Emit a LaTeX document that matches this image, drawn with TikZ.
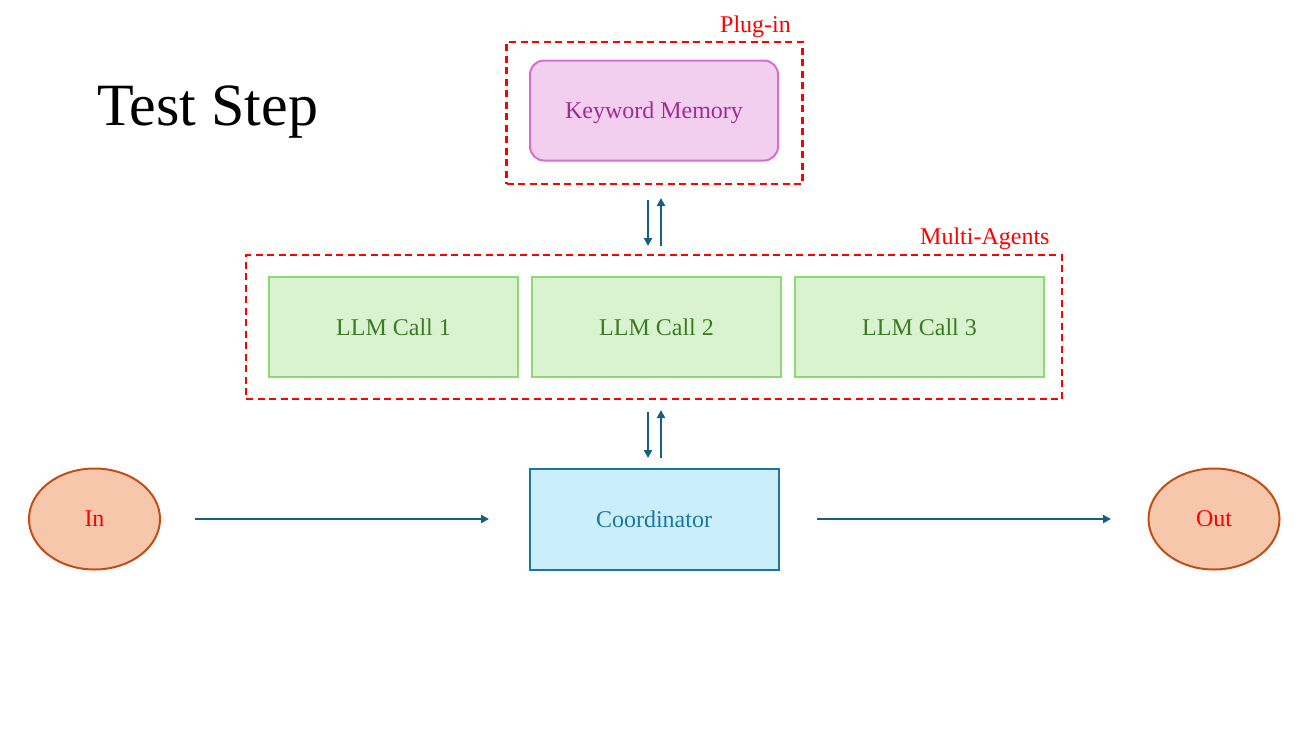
\documentclass[tikz,border=0pt]{standalone}
\usepackage{fontspec}
\setmainfont{Liberation Serif}
\usetikzlibrary{arrows.meta,shapes.geometric}
\definecolor{kwfill}{HTML}{F2CFEE}
\definecolor{kwdraw}{HTML}{D86ECC}
\definecolor{kwtext}{HTML}{A02B93}
\definecolor{llmfill}{HTML}{D9F2D0}
\definecolor{llmdraw}{HTML}{8ED973}
\definecolor{llmtext}{HTML}{3A7C22}
\definecolor{cofill}{HTML}{CAEEFB}
\definecolor{codraw}{HTML}{1A77A0}
\definecolor{cotext}{HTML}{1A77A0}
\definecolor{iofill}{HTML}{F7C7AC}
\definecolor{iodraw}{HTML}{C04F15}
\definecolor{arr}{HTML}{156082}
\tikzset{
  txt/.style={font=\fontsize{24}{28}\selectfont},
  groupbox/.style={draw=red, line width=2.2pt, dash pattern=on 7pt off 4.5pt, inner sep=0pt},
  kwbox/.style={txt, draw=kwdraw, fill=kwfill, text=kwtext, line width=2pt, rounded corners=14pt, minimum width=248pt, minimum height=100pt, inner sep=0pt},
  llmbox/.style={txt, draw=llmdraw, fill=llmfill, text=llmtext, line width=2pt, minimum width=249pt, minimum height=100pt, inner sep=0pt},
  cobox/.style={txt, draw=codraw, fill=cofill, text=cotext, line width=2pt, minimum width=249pt, minimum height=101pt, inner sep=0pt},
  ioell/.style={txt, ellipse, draw=iodraw, fill=iofill, text=red, line width=2pt, minimum width=131pt, minimum height=101pt, inner sep=0pt},
  conn/.style={draw=arr, line width=2.2pt, -{Triangle[length=8pt,width=8pt]}},
  grplabel/.style={txt, text=red, anchor=base west, inner sep=0pt},
}
\begin{document}
\begin{tikzpicture}[x=1pt,y=-1pt]
\useasboundingbox (0,0) rectangle (1308,732);
\node[anchor=base west, inner sep=0pt, font=\fontsize{60}{66}\selectfont] (title) at (97,125) {Test Step};
% Plug-in group
\node[groupbox, minimum width=296pt, minimum height=142pt] (plug) at (654.5,113) {};
\node[grplabel] (pluglbl) at (720,32) {Plug-in};
\node[kwbox, text depth=0pt] (kw) at (654,110.5) {Keyword Memory};
% Multi-Agents group
\node[groupbox, minimum width=816pt, minimum height=144pt] (multi) at (654,327) {};
\node[grplabel] (multilbl) at (920,244) {Multi-Agents};
\node[llmbox] (l1) at (393.5,327) {LLM Call 1};
\node[llmbox] (l2) at (656.5,327) {LLM Call 2};
\node[llmbox] (l3) at (919.5,327) {LLM Call 3};
% Coordinator and IO
\node[cobox] (co) at (654,519) {Coordinator};
\node[ioell] (in) at (94.5,519) {In};
\node[ioell] (out) at (1214,519) {Out};
% connectors
\coordinate (a1s) at (648,200); \coordinate (a1e) at (648,246);
\coordinate (a2s) at (661,246); \coordinate (a2e) at (661,198);
\coordinate (b1s) at (648,412); \coordinate (b1e) at (648,458);
\coordinate (b2s) at (661,458); \coordinate (b2e) at (661,410);
\draw[conn] (a1s) -- (a1e);
\draw[conn] (a2s) -- (a2e);
\draw[conn] (b1s) -- (b1e);
\draw[conn] (b2s) -- (b2e);
\coordinate (ins) at (195,519); \coordinate (ine) at (489,519);
\coordinate (outs) at (817,519); \coordinate (oute) at (1111,519);
\draw[conn] (ins) -- (ine);
\draw[conn] (outs) -- (oute);
\end{tikzpicture}
\end{document}
